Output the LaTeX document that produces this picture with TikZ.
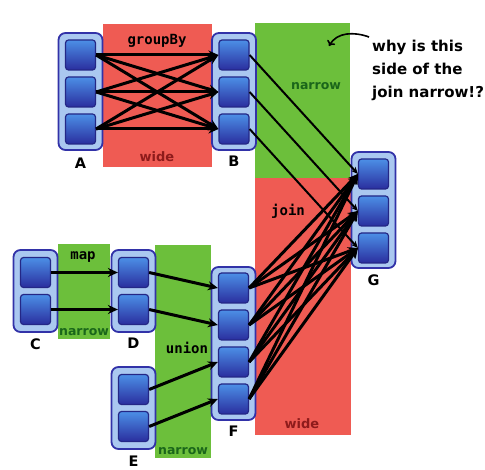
\documentclass[tikz,border=0pt]{standalone}
\usepackage{fontspec}
\setmainfont{DejaVu Sans}
\setmonofont{DejaVu Sans Mono}
\usetikzlibrary{positioning,arrows.meta}
\definecolor{widered}{HTML}{EF5B53}
\definecolor{narrowgreen}{HTML}{6CBF3B}
\definecolor{narrowtext}{HTML}{1A661A}
\definecolor{widetext}{HTML}{8E1B1B}
\definecolor{rddfill}{HTML}{AAC8F0}
\definecolor{rddline}{HTML}{3232A8}
\definecolor{parttop}{HTML}{4C8FE6}
\definecolor{partbot}{HTML}{2A2E9E}
\tikzstyle{rdd} = [draw=rddline, fill=rddfill, line width=1.8pt, rounded corners=7pt, minimum width=44pt]
\tikzstyle{part} = [draw=partbot!85!black, line width=1.2pt, rounded corners=3pt, top color=parttop, bottom color=partbot, minimum width=30pt, minimum height=30pt]
\tikzstyle{rddname} = [font={\fontsize{14.5}{16}\selectfont\bfseries}, inner sep=0pt]
\tikzstyle{op} = [font={\fontsize{14}{16}\selectfont\ttfamily\bfseries}, inner sep=0pt]
\tikzstyle{wide} = [font={\fontsize{13}{15}\selectfont\bfseries}, text=widetext, inner sep=0pt]
\tikzstyle{narrow} = [font={\fontsize{12.5}{15}\selectfont\bfseries}, text=narrowtext, inner sep=0pt]
\tikzstyle{dep} = [-{Stealth[length=10pt,width=9pt]}, line width=3pt]
\tikzstyle{onedep} = [-{Stealth[length=7pt,width=6pt]}, line width=2pt]
\tikzstyle{note} = [font={\fontsize{15}{23}\selectfont\bfseries}, align=left, inner sep=0pt]

\begin{document}
\begin{tikzpicture}[x=1pt,y=-1pt]
        \useasboundingbox (0,0) rectangle (485,470);
        % stages
        \fill[widered] (103,24) rectangle (212,167);
        \fill[narrowgreen] (255,23) rectangle (350,178);
        \fill[widered] (255,178) rectangle (351,435);
        \fill[narrowgreen] (58,244) rectangle (110,339);
        \fill[narrowgreen] (155,245) rectangle (211,458);
        \node[op](groupby) at (157,41){groupBy};
        \node[wide](wide1) at (157,157){wide};
        \node[narrow](narrow1) at (316,86){narrow};
        \node[op](join) at (288,211){join};
        \node[wide](wide2) at (302,424){wide};
        \node[op](map) at (83,257){map};
        \node[narrow](narrow2) at (84,332){narrow};
        \node[op](union) at (187,348){union};
        \node[narrow](narrow3) at (183,451){narrow};
        % rdds
        \node[rdd, minimum height=117pt](A) at (80.5,91.5){};
        \node[rdd, minimum height=117pt](B) at (234,91.5){};
        \node[rdd, minimum height=116pt](G) at (373.5,210){};
        \node[rdd, minimum height=82pt](C) at (35.5,291){};
        \node[rdd, minimum height=82pt](D) at (133.5,291){};
        \node[rdd, minimum height=82pt](E) at (133.5,408){};
        \node[rdd, minimum height=153pt](F) at (233.5,343.5){};
        \node[rddname, below=7pt of A]{A};
        \node[rddname, below=5pt of B]{B};
        \node[rddname, below=6pt of G]{G};
        \node[rddname, below=6pt of C]{C};
        \node[rddname, below=5pt of D]{D};
        \node[rddname, below=6pt of E]{E};
        \node[rddname, below=5pt of F]{F};
        % partitions
        \node[part](a1) at (80.5,55){};
        \node[part](a2) at (80.5,92){};
        \node[part](a3) at (80.5,129){};
        \node[part](b1) at (234,55){};
        \node[part](b2) at (234,92){};
        \node[part](b3) at (234,129){};
        \node[part](g1) at (373.5,174){};
        \node[part](g2) at (373.5,211){};
        \node[part](g3) at (373.5,248){};
        \node[part](c1) at (35.5,272.5){};
        \node[part](c2) at (35.5,309.5){};
        \node[part](d1) at (133.5,272.5){};
        \node[part](d2) at (133.5,309.5){};
        \node[part](e1) at (133.5,389.5){};
        \node[part](e2) at (133.5,426.5){};
        \node[part](f1) at (233.5,288){};
        \node[part](f2) at (233.5,325){};
        \node[part](f3) at (233.5,362){};
        \node[part](f4) at (233.5,399){};
        % groupBy
        \draw[dep](a1.east)--(b1.west);
        \draw[dep](a1.east)--(b2.west);
        \draw[dep](a1.east)--(b3.west);
        \draw[dep](a2.east)--(b1.west);
        \draw[dep](a2.east)--(b2.west);
        \draw[dep](a2.east)--(b3.west);
        \draw[dep](a3.east)--(b1.west);
        \draw[dep](a3.east)--(b2.west);
        \draw[dep](a3.east)--(b3.west);
        % map, union
        \draw[dep](c1.east)--(d1.west);
        \draw[dep](c2.east)--(d2.west);
        \draw[dep](d1.east)--(f1.west);
        \draw[dep](d2.east)--(f2.west);
        \draw[dep](e1.east)--(f3.west);
        \draw[dep](e2.east)--(f4.west);
        % join
        \draw[onedep](b1.east)--(g1.west);
        \draw[onedep](b2.east)--(g2.west);
        \draw[onedep](b3.east)--(g3.west);
        \draw[dep](f1.east)--(g1.west);
        \draw[dep](f1.east)--(g2.west);
        \draw[dep](f1.east)--(g3.west);
        \draw[dep](f2.east)--(g1.west);
        \draw[dep](f2.east)--(g2.west);
        \draw[dep](f2.east)--(g3.west);
        \draw[dep](f3.east)--(g1.west);
        \draw[dep](f3.east)--(g2.west);
        \draw[dep](f3.east)--(g3.west);
        \draw[dep](f4.east)--(g1.west);
        \draw[dep](f4.east)--(g2.west);
        \draw[dep](f4.east)--(g3.west);
        % question
        \node[note, anchor=north west](why) at (372,40){why is this\\side of the\\join narrow!?};
        \coordinate(tail) at (369,37);
        \coordinate(here) at (329,46);
        \draw[-{To[length=5pt,width=9pt]}, line width=1.6pt](tail)to[out=160,in=60](here);
      \end{tikzpicture}
\end{document}
